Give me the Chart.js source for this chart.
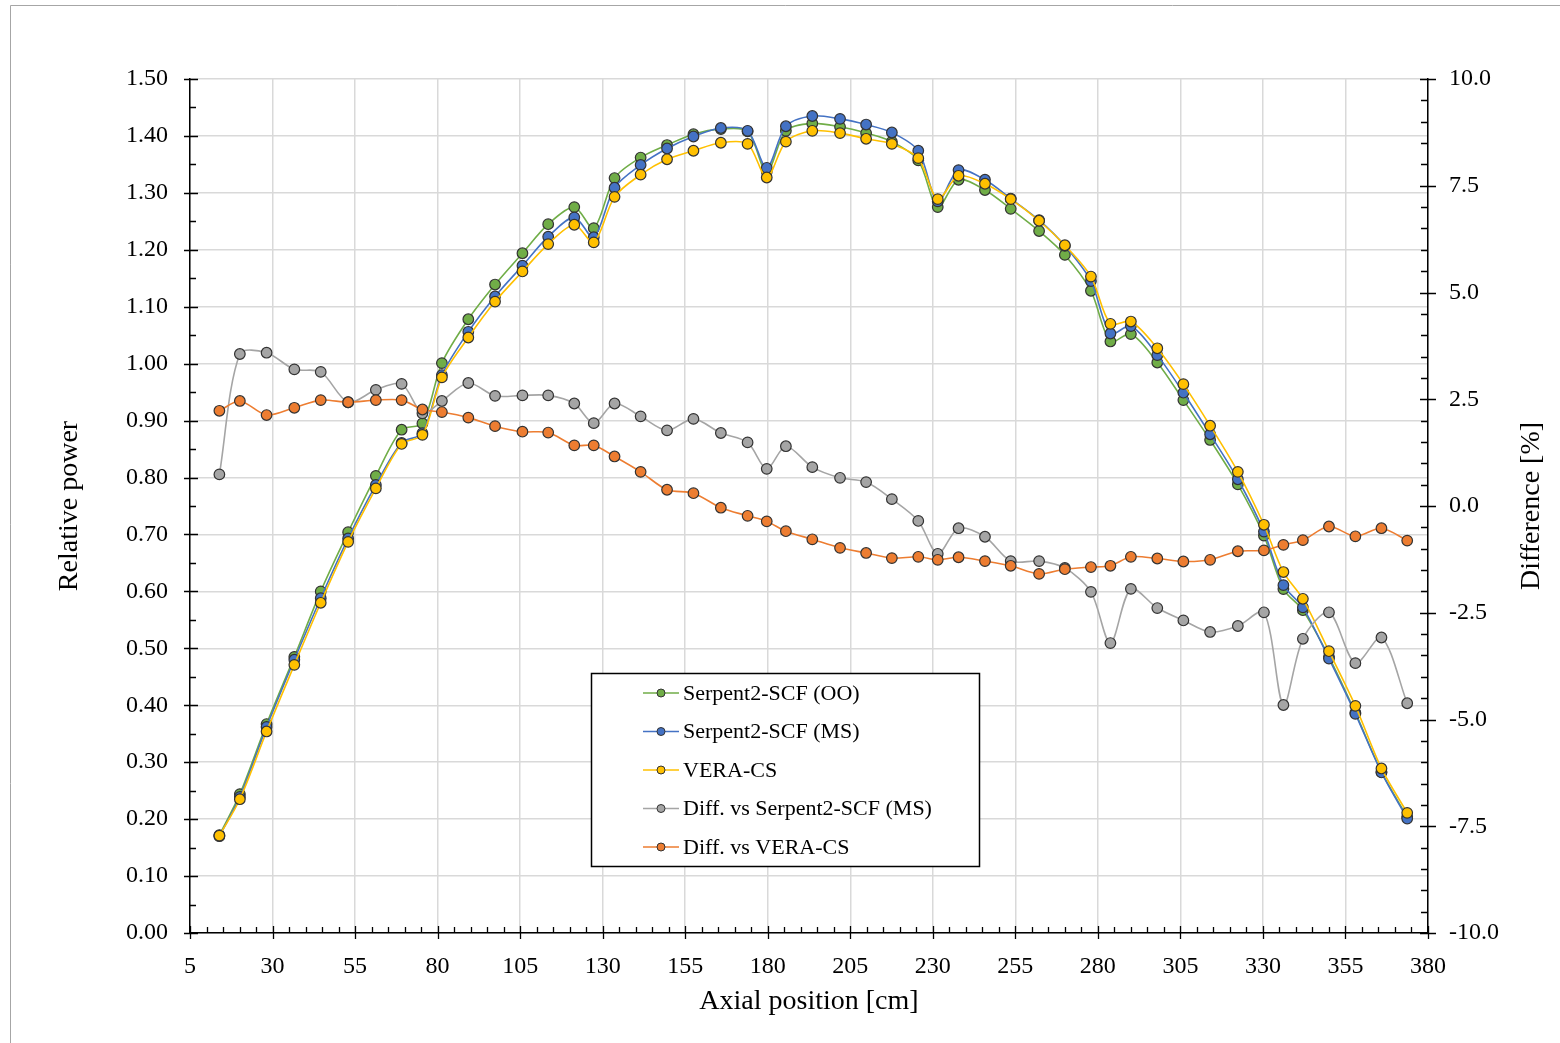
<!DOCTYPE html>
<html>
<head>
<meta charset="utf-8">
<title>Axial power</title>
<script src="https://cdn.jsdelivr.net/npm/chart.js@4.4.1/dist/chart.umd.min.js"></script>
<style>
  html, body { margin: 0; padding: 0; background: #fff; }
  #wrap { position: relative; width: 1560px; height: 1043px; }
</style>
</head>
<body>
<div id="wrap"><canvas id="powercanvas" width="1560" height="1043"></canvas></div>
<script>
// axial positions of the nodes [cm]
let axialPos = [13.9, 20.1, 28.2, 36.6, 44.6, 52.9, 61.3, 69.1, 75.4, 81.3,
    89.3, 97.4, 105.7, 113.5, 121.4, 127.3, 133.6, 141.5, 149.5, 157.5, 165.8,
    173.9, 179.7, 185.5, 193.5, 201.9, 209.8, 217.6, 225.6, 231.5,
    237.8, 245.8, 253.6, 262.2, 270.0, 277.9, 283.8, 290.0, 298.0, 305.9,
    314.0, 322.4, 330.3, 336.2, 342.1, 350.0, 358.0, 365.9, 373.7];

// relative power
let serpentOO = [0.172, 0.244, 0.367, 0.485, 0.600, 0.704, 0.803, 0.884, 0.895, 1.001,
    1.078, 1.139, 1.194, 1.245, 1.275, 1.238, 1.326, 1.362, 1.384, 1.403, 1.412,
    1.408, 1.337, 1.409, 1.422, 1.416, 1.405, 1.390, 1.357, 1.275,
    1.323, 1.305, 1.272, 1.233, 1.191, 1.128, 1.039, 1.052, 1.002, 0.936,
    0.866, 0.788, 0.698, 0.604, 0.567, 0.485, 0.387, 0.283, 0.204];
let serpentMS = [0.170, 0.239, 0.362, 0.480, 0.588, 0.693, 0.787, 0.861, 0.878, 0.980,
    1.056, 1.118, 1.172, 1.223, 1.257, 1.222, 1.309, 1.349, 1.378, 1.399, 1.414,
    1.409, 1.344, 1.417, 1.435, 1.430, 1.420, 1.406, 1.374, 1.285,
    1.340, 1.323, 1.290, 1.252, 1.207, 1.145, 1.053, 1.066, 1.015, 0.949,
    0.876, 0.797, 0.705, 0.611, 0.572, 0.482, 0.385, 0.282, 0.201];
let veraCS = [0.171, 0.235, 0.354, 0.471, 0.580, 0.687, 0.781, 0.859, 0.875, 0.976,
    1.046, 1.109, 1.162, 1.210, 1.244, 1.213, 1.293, 1.332, 1.359, 1.374, 1.388,
    1.386, 1.327, 1.390, 1.409, 1.405, 1.395, 1.386, 1.361, 1.289,
    1.330, 1.316, 1.289, 1.251, 1.208, 1.153, 1.070, 1.074, 1.027, 0.964,
    0.891, 0.810, 0.717, 0.634, 0.587, 0.495, 0.399, 0.289, 0.211];

// difference [%]
let diffVsMS = [0.74, 3.56, 3.59, 3.20, 3.14, 2.43, 2.72, 2.86, 2.17, 2.46,
    2.88, 2.58, 2.59, 2.59, 2.40, 1.94, 2.40, 2.10, 1.77, 2.04, 1.71,
    1.49, 0.87, 1.40, 0.91, 0.66, 0.56, 0.16, -0.35, -1.12,
    -0.52, -0.72, -1.29, -1.29, -1.45, -2.01, -3.21, -1.94, -2.39, -2.68,
    -2.95, -2.81, -2.49, -4.66, -3.11, -2.49, -3.68, -3.08, -4.62];
let diffVsVera = [2.23, 2.46, 2.13, 2.30, 2.48, 2.43, 2.48, 2.48, 2.26, 2.20,
    2.07, 1.87, 1.74, 1.72, 1.42, 1.42, 1.16, 0.80, 0.38, 0.30, -0.04,
    -0.23, -0.36, -0.59, -0.78, -0.98, -1.10, -1.22, -1.19, -1.26,
    -1.20, -1.29, -1.40, -1.59, -1.48, -1.43, -1.40, -1.19, -1.23, -1.30,
    -1.26, -1.06, -1.04, -0.91, -0.80, -0.48, -0.71, -0.52, -0.81];

let seriesNames = ["Serpent2-SCF (OO)", "Serpent2-SCF (MS)", "VERA-CS",
    "Diff. vs Serpent2-SCF (MS)", "Diff. vs VERA-CS"];

// tick labels
let xTickVals = [5, 30, 55, 80, 105, 130, 155, 180, 205, 230, 255, 280, 305, 330, 355, 380];
let powerTickVals = [0, 0.1, 0.2, 0.3, 0.4, 0.5, 0.6, 0.7, 0.8, 0.9, 1.0, 1.1, 1.2, 1.3, 1.4, 1.5];
let diffTickVals = [-10, -7.5, -5, -2.5, 0, 2.5, 5, 7.5, 10];

const SERIF = "'Liberation Serif', 'Times New Roman', serif";

function toPoints(values) {
    return axialPos.map(function(p, i) { return { x: p, y: values[i] }; });
}

function makeSet(label, values, color, axis, order) {
    return {
        label: label,
        data: toPoints(values),
        yAxisID: axis,
        borderColor: color,
        backgroundColor: color,
        borderWidth: 1.6,
        pointRadius: 5.3,
        pointBorderColor: '#333333',
        pointBorderWidth: 1.2,
        pointBackgroundColor: color,
        tension: 0.3,
        order: order
    };
}

// outer frame of the chart area
const frameLines = {
    id: 'frameLines',
    beforeDraw(chart) {
        let ctx = chart.ctx;
        ctx.save();
        ctx.strokeStyle = '#a6a6a6';
        ctx.lineWidth = 1;
        ctx.beginPath();
        ctx.moveTo(10.5, chart.height);
        ctx.lineTo(10.5, 5.5);
        ctx.lineTo(chart.width, 5.5);
        ctx.stroke();
        ctx.restore();
    }
};

// major + minor tick marks like the excel original
const axisTicks = {
    id: 'axisTicks',
    afterDraw(chart) {
        let ctx = chart.ctx;
        let xs = chart.scales.x, yl = chart.scales.y, yr = chart.scales.y2;
        ctx.save();
        ctx.strokeStyle = '#000';
        ctx.lineWidth = 1.3;
        ctx.beginPath();
        for (let i = 0; i <= 75; i++) {
            let v = 5 + i * 5;
            let px = Math.round(xs.getPixelForValue(v)) + 0.5;
            let major = i % 5 === 0;
            ctx.moveTo(px, yl.bottom + (major ? 6 : 0));
            ctx.lineTo(px, yl.bottom - (major ? 7 : 6));
        }
        for (let i = 0; i <= 30; i++) {
            let py = Math.round(yl.getPixelForValue(i * 0.05)) + 0.5;
            let major = i % 2 === 0;
            ctx.moveTo(xs.left - (major ? 6 : 0), py);
            ctx.lineTo(xs.left + (major ? 8 : 6), py);
        }
        for (let i = 0; i <= 40; i++) {
            let py = Math.round(yr.getPixelForValue(-10 + i * 0.5)) + 0.5;
            let major = i % 5 === 0;
            ctx.moveTo(xs.right + (major ? 8 : 0), py);
            ctx.lineTo(xs.right - (major ? 8 : 7), py);
        }
        ctx.stroke();

        // right axis title reads bottom-to-top, same as the left one
        let area = chart.chartArea;
        ctx.translate(yr.right - 28, (area.top + area.bottom) / 2);
        ctx.rotate(-Math.PI / 2);
        ctx.font = '28px ' + SERIF;
        ctx.fillStyle = '#000';
        ctx.textAlign = 'center';
        ctx.textBaseline = 'middle';
        ctx.fillText('Difference [%]', 0, 0);
        ctx.restore();
    }
};

// boxed legend inside the plot
const boxLegend = {
    id: 'boxLegend',
    afterDraw(chart) {
        let ctx = chart.ctx;
        let left = 591, top = 673, w = 388, h = 193;
        ctx.save();
        ctx.fillStyle = '#fff';
        ctx.fillRect(left, top, w, h);
        ctx.strokeStyle = '#000';
        ctx.lineWidth = 1.5;
        ctx.strokeRect(left + 0.5, top + 0.5, w, h);
        ctx.font = '22px ' + SERIF;
        ctx.textBaseline = 'middle';
        chart.data.datasets.forEach(function(ds, i) {
            let cy = top + 20 + i * 38.5;
            ctx.strokeStyle = ds.borderColor;
            ctx.lineWidth = 1.6;
            ctx.beginPath();
            ctx.moveTo(643, cy);
            ctx.lineTo(679, cy);
            ctx.stroke();
            ctx.beginPath();
            ctx.arc(661, cy, 4, 0, Math.PI * 2);
            ctx.fillStyle = ds.pointBackgroundColor;
            ctx.fill();
            ctx.strokeStyle = '#333';
            ctx.lineWidth = 1;
            ctx.stroke();
            ctx.fillStyle = '#000';
            ctx.fillText(ds.label, 683, cy + 1);
        });
        ctx.restore();
    }
};

function createPowerChart() {
    let powerCanvas = document.getElementById('powercanvas').getContext('2d');
    Chart.defaults.font.family = SERIF;
    Chart.defaults.color = '#000';

    let datasets = [
        makeSet(seriesNames[0], serpentOO, '#70AD47', 'y', 5),
        makeSet(seriesNames[1], serpentMS, '#4472C4', 'y', 4),
        makeSet(seriesNames[2], veraCS, '#FFC000', 'y', 3),
        makeSet(seriesNames[3], diffVsMS, '#A5A5A5', 'y2', 2),
        makeSet(seriesNames[4], diffVsVera, '#ED7D31', 'y2', 1)
    ];

    return new Chart(powerCanvas, {
        type: 'line',
        data: { datasets: datasets },
        plugins: [frameLines, axisTicks, boxLegend],
        options: {
            responsive: false,
            animation: false,
            layout: { padding: { top: 79, right: 0, bottom: 0, left: 0 } },
            plugins: {
                legend: { display: false },
                tooltip: { enabled: false }
            },
            scales: {
                x: {
                    type: 'linear',
                    min: 5,
                    max: 380,
                    afterBuildTicks: function(scale) {
                        scale.ticks = xTickVals.map(function(v) { return { value: v }; });
                    },
                    afterFit: function(scale) { scale.height = 110; },
                    ticks: {
                        font: { size: 24 },
                        padding: 19,
                        maxRotation: 0,
                        callback: function(v) { return String(v); }
                    },
                    grid: { color: '#d9d9d9', lineWidth: 1.5, drawTicks: false },
                    border: { color: '#000', width: 1.5 },
                    title: {
                        display: true,
                        text: 'Axial position [cm]',
                        font: { size: 28 },
                        padding: { top: 0, bottom: 25 }
                    }
                },
                y: {
                    position: 'left',
                    min: 0,
                    max: 1.5,
                    afterBuildTicks: function(scale) {
                        scale.ticks = powerTickVals.map(function(v) { return { value: v }; });
                    },
                    afterFit: function(scale) { scale.width = 190; },
                    ticks: {
                        font: { size: 24 },
                        padding: 22,
                        callback: function(v) { return Number(v).toFixed(2); }
                    },
                    grid: { color: '#d9d9d9', lineWidth: 1.5, drawTicks: false },
                    border: { color: '#000', width: 1.5 },
                    title: {
                        display: true,
                        text: 'Relative power',
                        font: { size: 28 },
                        padding: { top: 53, bottom: 0 }
                    }
                },
                y2: {
                    position: 'right',
                    min: -10,
                    max: 10,
                    afterBuildTicks: function(scale) {
                        scale.ticks = diffTickVals.map(function(v) { return { value: v }; });
                    },
                    afterFit: function(scale) { scale.width = 132; },
                    ticks: {
                        font: { size: 24 },
                        padding: 21,
                        callback: function(v) { return Number(v).toFixed(1); }
                    },
                    grid: { drawOnChartArea: false, drawTicks: false },
                    border: { color: '#000', width: 1.5 },
                    title: { display: false }
                }
            }
        }
    });
}

createPowerChart();
</script>
</body>
</html>
